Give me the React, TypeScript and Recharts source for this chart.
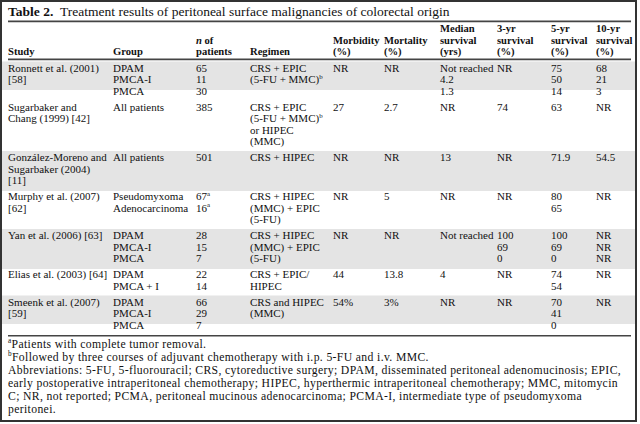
import React from "react";
import { Surface, Layer, Rectangle } from "recharts";

const titleBold = "Table 2.";
const titleText = "Treatment results of peritoneal surface malignancies of colorectal origin";

const headerLines: string[][] = [
  ["", "", "", "", "", "", "Median", "3-yr", "5-yr", "10-yr"],
  ["", "", "n of", "", "Morbidity", "Mortality", "survival", "survival", "survival", "survival"],
  ["Study", "Group", "patients", "Regimen", "(%)", "(%)", "(yrs)", "(%)", "(%)", "(%)"],
];

const studies = [
  ["Ronnett et al. (2001)", "[58]"],
  ["Sugarbaker and", "Chang (1999) [42]"],
  ["González-Moreno and", "Sugarbaker (2004)", "[11]"],
  ["Murphy et al. (2007)", "[62]"],
  ["Yan et al. (2006) [63]"],
  ["Elias et al. (2003) [64]"],
  ["Smeenk et al. (2007)", "[59]"],
];
const groups = [
  ["DPAM", "PMCA-I", "PMCA"],
  ["All patients"],
  ["All patients"],
  ["Pseudomyxoma", "Adenocarcinoma"],
  ["DPAM", "PMCA-I", "PMCA"],
  ["DPAM", "PMCA + I"],
  ["DPAM", "PMCA-I", "PMCA"],
];
const patients = [
  ["65", "11", "30"],
  ["385"],
  ["501"],
  ["67^a", "16^a"],
  ["28", "15", "7"],
  ["22", "14"],
  ["66", "29", "7"],
];
const regimens = [
  ["CRS + EPIC", "(5-FU + MMC)^b"],
  ["CRS + EPIC", "(5-FU + MMC)^b", "or HIPEC", "(MMC)"],
  ["CRS + HIPEC"],
  ["CRS + HIPEC", "(MMC) + EPIC", "(5-FU)"],
  ["CRS + HIPEC", "(MMC) + EPIC", "(5-FU)"],
  ["CRS + EPIC/", "HIPEC"],
  ["CRS and HIPEC", "(MMC)"],
];
const morbidity = [["NR"], ["27"], ["NR"], ["NR"], ["NR"], ["44"], ["54%"]];
const mortality = [["NR"], ["2.7"], ["NR"], ["5"], ["NR"], ["13.8"], ["3%"]];
const medianSurvival = [["Not reached", "4.2", "1.3"], ["NR"], ["13"], ["NR"], ["Not reached"], ["4"], ["NR"]];
const survival3 = [["NR"], ["74"], ["NR"], ["NR"], ["100", "69", "0"], ["NR"], ["NR"]];
const survival5 = [["75", "50", "14"], ["63"], ["71.9"], ["80", "65"], ["100", "69", "0"], ["74", "54"], ["70", "41", "0"]];
const survival10 = [["68", "21", "3"], ["NR"], ["54.5"], ["NR"], ["NR", "NR", "NR"], ["NR"], ["NR"]];

const footnotes = [
  "^aPatients with complete tumor removal.",
  "^bFollowed by three courses of adjuvant chemotherapy with i.p. 5-FU and i.v. MMC.",
  "Abbreviations: 5-FU, 5-fluorouracil; CRS, cytoreductive surgery; DPAM, disseminated peritoneal adenomucinosis; EPIC,",
  "early postoperative intraperitoneal chemotherapy; HIPEC, hyperthermic intraperitoneal chemotherapy; MMC, mitomycin",
  "C; NR, not reported; PCMA, peritoneal mucinous adenocarcinoma; PCMA-I, intermediate type of pseudomyxoma",
  "peritonei.",
];

const columns = [studies, groups, patients, regimens, morbidity, mortality, medianSurvival, survival3, survival5, survival10];

const W = 640;
const H = 424;
const colX = [8, 113, 196, 250, 333, 384, 440, 497, 551, 596];
const FONT = "'Liberation Serif', 'Times New Roman', serif";
const FS = 11;
const HFS = 10.6;
const LH = 11.5;
const PAD = 4.5;
const TEXT = "#111";
const SHADE = "#e4e4e4";
const RULE = "#444";

function Rich({ x, y, s, fs, bold, ls }: { x: number; y: number; s: string; fs: number; bold?: boolean; ls?: number }) {
  const parts = s.split(/(\^[ab])/).filter((p) => p.length > 0);
  return (
    <text x={x} y={y} fontFamily={FONT} fontSize={fs} fill={TEXT} fontWeight={bold ? "bold" : "normal"} letterSpacing={ls || 0}>
      {parts.map((p, i) =>
        p.startsWith("^") ? (
          <tspan key={i} fontSize={fs * 0.62} dy={-fs * 0.38}>
            {p.slice(1)}
          </tspan>
        ) : (
          <tspan key={i} dy={i > 0 && parts[i - 1].startsWith("^") ? fs * 0.38 : 0}>
            {p}
          </tspan>
        )
      )}
    </text>
  );
}

export default function App() {
  const headerRuleY = 59;
  let y = headerRuleY + 2.5;
  const rows = studies.map((_, r) => {
    const lines = Math.max(...columns.map((c) => c[r].length));
    const shadeLines = Math.max(studies[r].length, regimens[r].length);
    const top = y;
    y += lines * LH + PAD;
    return { r, top, lines, shadeLines };
  });
  const bottomRuleY = y + 0.5;
  const footStart = bottomRuleY + 12.5;
  const FLH = 13;

  return (
    <div style={{ position: "fixed", left: 0, top: 0, width: W, height: H, background: "#fff" }}>
      <Surface width={W} height={H} viewBox={{ x: 0, y: 0, width: W, height: H }}>
        <Rectangle x={0} y={0} width={W} height={H} fill="#fff" />
        {rows.map((row) =>
          row.r % 2 === 0 ? (
            <Rectangle
              key={"s" + row.r}
              x={1}
              y={row.top}
              width={635}
              height={row.shadeLines * LH + PAD + 1}
              fill={SHADE}
            />
          ) : null
        )}
        <Layer>
          <text x={8} y={16} fontFamily={FONT} fontSize={13.5} fill={TEXT}>
            <tspan fontWeight="bold">{titleBold}</tspan>
            <tspan>{"\u00a0\u00a0" + titleText}</tspan>
          </text>
          <Rectangle x={8} y={20.5} width={623} height={1.8} fill={RULE} />
          {headerLines.map((line, li) =>
            line.map((t, ci) =>
              t ? (
                t === "n of" ? (
                  <text key={li + "-" + ci} x={colX[ci]} y={32 + li * LH} fontFamily={FONT} fontSize={HFS} fill={TEXT} fontWeight="bold">
                    <tspan fontStyle="italic">n</tspan>
                    <tspan> of</tspan>
                  </text>
                ) : (
                  <Rich key={li + "-" + ci} x={colX[ci]} y={32 + li * LH} s={t} fs={HFS} bold />
                )
              ) : null
            )
          )}
          <Rectangle x={8} y={headerRuleY - 0.5} width={623} height={1.8} fill={RULE} />
        </Layer>
        <Layer>
          {rows.map((row) =>
            columns.map((col, ci) =>
              col[row.r].map((s, li) => (
                <Rich key={row.r + "-" + ci + "-" + li} x={colX[ci]} y={row.top + 10 + li * LH} s={s} fs={FS} />
              ))
            )
          )}
        </Layer>
        <Rectangle x={8} y={bottomRuleY} width={623} height={1.5} fill={RULE} />
        <Layer>
          {footnotes.map((f, i) => (
            <Rich key={"f" + i} x={8} y={footStart + i * FLH} s={f} fs={11.7} ls={0.36} />
          ))}
        </Layer>
        <rect x={1} y={1} width={635} height={420} fill="none" stroke="#333" strokeWidth={2} />
      </Surface>
    </div>
  );
}
